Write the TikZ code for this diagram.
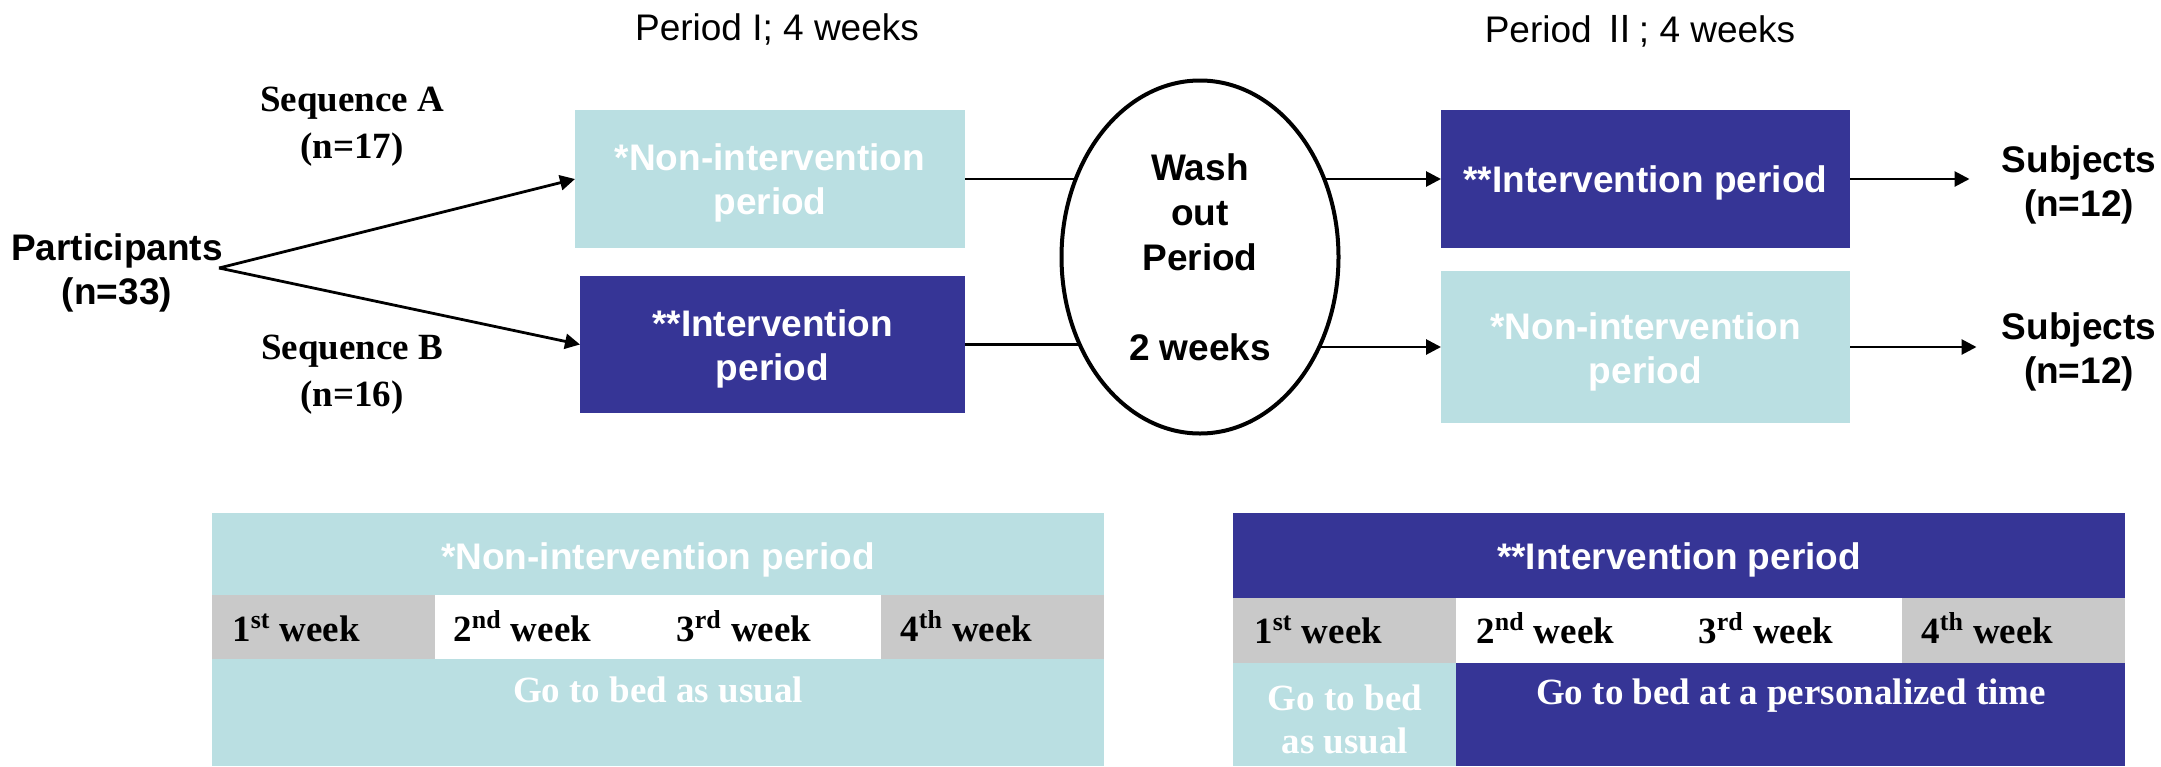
\documentclass[tikz,border=0pt]{standalone}
\usepackage{fontspec}
\setmainfont{Liberation Serif}
\newfontfamily\arialf{Liberation Sans}
\newfontfamily\cjkf{Noto Sans CJK JP}
\usetikzlibrary{shapes.geometric,arrows.meta,backgrounds}
\definecolor{lcyan}{RGB}{186,223,226}
\definecolor{dblue}{RGB}{54,53,150}
\definecolor{lgrey}{RGB}{201,201,201}
\begin{document}
\begin{tikzpicture}[x=0.5pt,y=-0.5pt,
  sans/.style={font=\arialf\fontsize{18.5}{22}\selectfont},
  sansb/.style={font=\arialf\bfseries\fontsize{18.5}{22}\selectfont, align=center, inner sep=0pt},
  serb/.style={font=\bfseries\fontsize{18.5}{23.5}\selectfont, align=center, inner sep=0pt},
  cell/.style={inner sep=0pt, outer sep=0pt, anchor=north west},
  pbox/.style={inner sep=0pt, outer sep=0pt},
  ln/.style={line width=1.4pt},
  arr/.style={line width=1.4pt, -{Triangle[length=7.5pt,width=7.5pt]}}]
\useasboundingbox (0,0) rectangle (2161,766);

% top titles
\node[sans] (p1) at (777,29) {Period I; 4 weeks};
\node[sans] (p2) at (1640,31) {Period {\cjkf Ⅱ}; 4 weeks};

% left side
\node[sansb] (part) at (117,273) {Participants\\(n=33)};
\coordinate (split) at (219,268);
\node[serb] (seqA) at (352,127) {Sequence A\\(n=17)};
\node[serb] (seqB) at (352,375) {Sequence B\\(n=16)};

% period I boxes
\node[pbox, fill=lcyan, minimum width=195pt, minimum height=69pt] (ni1) at (770,179) {};
\node[sansb, text=white] (ni1t) at (770,183) {*Non-intervention\\period};
\node[pbox, fill=dblue, minimum width=192.5pt, minimum height=68.5pt] (i1) at (772.5,344.5) {};
\node[sansb, text=white] (i1t) at (772.5,348.5) {**Intervention\\period};

% washout
\node[ellipse, draw, line width=2pt, fill=white, minimum width=138.5pt, minimum height=176.5pt, inner sep=0pt, sansb, font=\arialf\bfseries\fontsize{18.5}{22.5}\selectfont] (ell) at (1200,257) {Wash\\out\\Period\\[22.5pt]2 weeks};

% period II boxes
\node[pbox, fill=dblue, minimum width=204.5pt, minimum height=69pt] (i2) at (1645.5,179) {};
\node[sansb, text=white] (i2t) at (1645.5,183) {**Intervention period};
\node[pbox, fill=lcyan, minimum width=204.5pt, minimum height=76pt] (ni2) at (1645.5,347) {};
\node[sansb, text=white] (ni2t) at (1645.5,352) {*Non-intervention\\period};

% subjects
\node[sansb] (s1) at (2079,184.5) {Subjects\\(n=12)};
\node[sansb] (s2) at (2079,352) {Subjects\\(n=12)};

% connectors
\draw[arr] (split) -- (ni1.west);
\draw[arr] (split) -- (i1.west);
\begin{pgfonlayer}{background}
\draw[ln] (ni1.east) -- (ell.center |- ni1.east);
\draw[ln] (i1.east) -- (ell.center |- i1.east);
\draw[arr] (ell.center |- i2.west) -- (i2.west);
\draw[arr] (ell.center |- ni2.west) -- (ni2.west);
\end{pgfonlayer}
\draw[arr, shorten >=16pt] (i2.east) -- (i2.east -| s1.west);
\draw[arr, shorten >=12.5pt] (ni2.east) -- (ni2.east -| s2.west);

% ---------- left table ----------
\node[cell, fill=lcyan, minimum width=446pt, minimum height=41pt] (lh) at (212,513) {};
\node[cell, fill=lgrey, minimum width=111.5pt, minimum height=32pt] (lw1) at (212,595) {};
\node[cell, fill=white, minimum width=111.5pt, minimum height=32pt] (lw2) at (435,595) {};
\node[cell, fill=white, minimum width=111.5pt, minimum height=32pt] (lw3) at (658,595) {};
\node[cell, fill=lgrey, minimum width=111.5pt, minimum height=32pt] (lw4) at (881,595) {};
\node[cell, fill=lcyan, minimum width=446pt, minimum height=53.5pt] (lb) at (212,659) {};
\node[sansb, text=white] (lht) at (658,560) {*Non-intervention period};
\node[serb, anchor=base west] (lt1) at (232,641) {1\textsuperscript{st} week};
\node[serb, anchor=base west] (lt2) at (453,641) {2\textsuperscript{nd} week};
\node[serb, anchor=base west] (lt3) at (676,641) {3\textsuperscript{rd} week};
\node[serb, anchor=base west] (lt4) at (900,641) {4\textsuperscript{th} week};
\node[serb, text=white] (lbt) at (658,690) {Go to bed as usual};

% ---------- right table ----------
\node[cell, fill=dblue, minimum width=446pt, minimum height=42.5pt] (rh) at (1233,513) {};
\node[cell, fill=lgrey, minimum width=111.5pt, minimum height=32.5pt] (rw1) at (1233,598) {};
\node[cell, fill=white, minimum width=111.5pt, minimum height=32.5pt] (rw2) at (1456,598) {};
\node[cell, fill=white, minimum width=111.5pt, minimum height=32.5pt] (rw3) at (1679,598) {};
\node[cell, fill=lgrey, minimum width=111.5pt, minimum height=32.5pt] (rw4) at (1902,598) {};
\node[cell, fill=lcyan, minimum width=111.5pt, minimum height=51.5pt] (rb1) at (1233,663) {};
\node[cell, fill=dblue, minimum width=334.5pt, minimum height=51.5pt] (rb2) at (1456,663) {};
\node[sansb, text=white] (rht) at (1679,560) {**Intervention period};
\node[serb, anchor=base west] (rt1) at (1254,643) {1\textsuperscript{st} week};
\node[serb, anchor=base west] (rt2) at (1476,643) {2\textsuperscript{nd} week};
\node[serb, anchor=base west] (rt3) at (1698,643) {3\textsuperscript{rd} week};
\node[serb, anchor=base west] (rt4) at (1921,643) {4\textsuperscript{th} week};
\node[serb, text=white, font=\bfseries\fontsize{18.5}{21.5}\selectfont] (rbt1) at (1345,719) {Go to bed\\as usual};
\node[serb, text=white] (rbt2) at (1791,696) {Go to bed at a personalized time};
\end{tikzpicture}
\end{document}
